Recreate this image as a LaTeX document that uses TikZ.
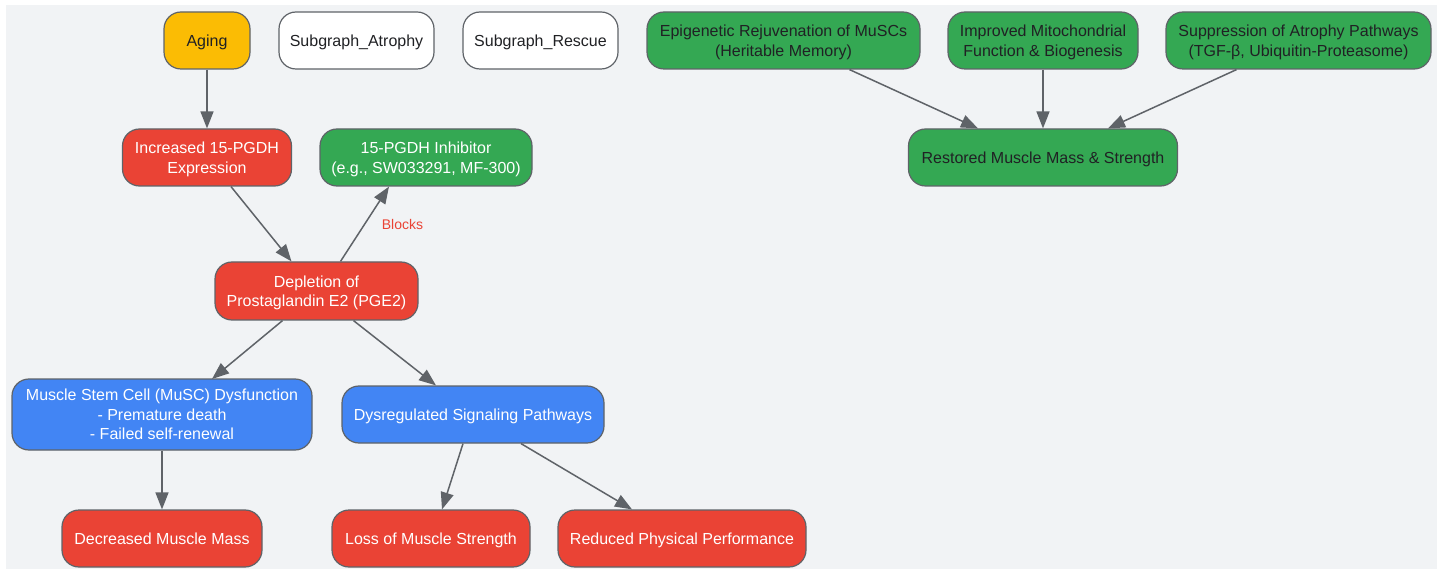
\documentclass[tikz,border=0pt]{standalone}
\usepackage{fontspec}
\setmainfont{Liberation Sans}
\usetikzlibrary{arrows.meta}
\definecolor{AgeYellow}{HTML}{FBBC04}
\definecolor{HarmRed}{HTML}{EA4335}
\definecolor{RescueGreen}{HTML}{34A853}
\definecolor{CellBlue}{HTML}{4285F4}
\definecolor{EdgeGrey}{HTML}{5F6368}
\definecolor{PaperGrey}{HTML}{F1F3F5}
\definecolor{InkDark}{HTML}{202124}

\tikzset{
    box/.style={draw=EdgeGrey, line width=1.2pt, rounded corners=17pt, align=center,
        minimum height=57pt, inner sep=0pt, font=\fontsize{16}{19.5}\selectfont,
        text depth=0pt},
    flow/.style={-{Triangle[length=17pt,width=13pt]}, EdgeGrey, line width=1.5pt},
}

\begin{document}
\begin{tikzpicture}[x=1pt, y=-1pt]
    % Fondo
    \fill[white] (0,0) rectangle (1443,569);
    \fill[PaperGrey] (6,5) rectangle (1437,569);
    \useasboundingbox (0,0) rectangle (1443,569);

    % Fila superior
    \node[box, fill=AgeYellow, text=InkDark, minimum width=86pt] (aging) at (207,40.5) {Aging};
    \node[box, fill=white, text=InkDark, minimum width=155pt] (subAtrophy) at (356.5,40.5) {Subgraph\_Atrophy};
    \node[box, fill=white, text=InkDark, minimum width=155pt] (subRescue) at (540.5,40.5) {Subgraph\_Rescue};
    \node[box, fill=RescueGreen, text=InkDark, minimum width=273pt] (epigen) at (783.5,40.5) {Epigenetic Rejuvenation of MuSCs\\(Heritable Memory)};
    \node[box, fill=RescueGreen, text=InkDark, minimum width=190pt] (mito) at (1043,40.5) {Improved Mitochondrial\\Function \& Biogenesis};
    \node[box, fill=RescueGreen, text=InkDark, minimum width=265pt] (suppress) at (1298.5,40.5) {Suppression of Atrophy Pathways\\(TGF-β, Ubiquitin-Proteasome)};

    % Segunda fila
    \node[box, fill=HarmRed, text=white, minimum width=169pt] (pgdhUp) at (207,157.5) {Increased 15-PGDH\\Expression};
    \node[box, fill=RescueGreen, text=white, minimum width=212pt] (inhibitor) at (426,157.5) {15-PGDH Inhibitor\\(e.g., SW033291, MF-300)};
    \node[box, fill=RescueGreen, text=InkDark, minimum width=269pt] (restored) at (1043,157.5) {Restored Muscle Mass \& Strength};

    % Centro
    \node[box, fill=HarmRed, text=white, minimum width=203pt, minimum height=58pt] (pge) at (316.5,291) {Depletion of\\Prostaglandin E2 (PGE2)};
    \node[box, fill=CellBlue, text=white, minimum width=300pt, minimum height=71pt] (musc) at (162,414.5) {Muscle Stem Cell (MuSC) Dysfunction\\- Premature death\\- Failed self-renewal};
    \node[box, fill=CellBlue, text=white, minimum width=262pt] (signal) at (473,414.5) {Dysregulated Signaling Pathways};

    % Resultados
    \node[box, fill=HarmRed, text=white, minimum width=200pt] (massLoss) at (162,538.5) {Decreased Muscle Mass};
    \node[box, fill=HarmRed, text=white, minimum width=198pt] (strength) at (431,538.5) {Loss of Muscle Strength};
    \node[box, fill=HarmRed, text=white, minimum width=248pt] (perform) at (682,538.5) {Reduced Physical Performance};

    % Flechas
    \draw[flow] (aging.south) -- (pgdhUp.north);
    \draw[flow] ([xshift=24pt]pgdhUp.south) -- ([xshift=-25pt]pge.north);
    \draw[flow] ([xshift=24pt]pge.north) -- ([xshift=-37pt]inhibitor.south)
        node[midway, right=13pt, text=HarmRed, font=\fontsize{14}{16}\selectfont] {Blocks};
    \draw[flow] ([xshift=-34pt]pge.south) -- ([xshift=50pt,yshift=-0.6pt]musc.north);
    \draw[flow] ([xshift=37pt]pge.south) -- ([xshift=-37pt]signal.north);
    \draw[flow] (musc.south) -- (massLoss.north);
    \draw[flow] ([xshift=-10pt]signal.south) -- ([xshift=11pt]strength.north);
    \draw[flow] ([xshift=48pt]signal.south) -- ([xshift=-50pt]perform.north);
    \draw[flow] ([xshift=66pt]epigen.south) -- ([xshift=-65pt]restored.north);
    \draw[flow] (mito.south) -- (restored.north);
    \draw[flow] ([xshift=-62pt]suppress.south) -- ([xshift=65pt]restored.north);
\end{tikzpicture}
\end{document}
